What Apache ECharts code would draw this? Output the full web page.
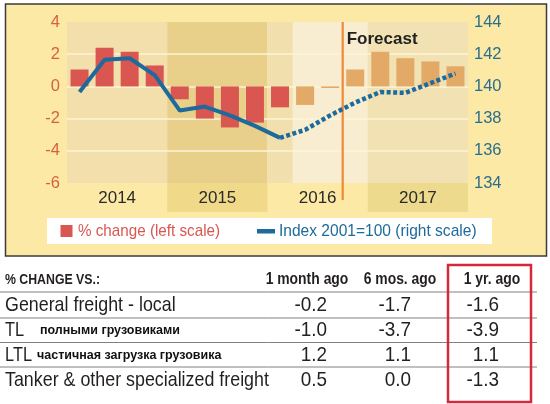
<!DOCTYPE html>
<html><head><meta charset="utf-8">
<script src="https://cdn.jsdelivr.net/npm/echarts@6/dist/echarts.min.js"></script>
<style>html,body{margin:0;padding:0;background:#fff}#c{width:550px;height:404px}</style>
</head><body><div id="c"></div>
<script>
// ---------- chart data ----------
const quarters = ['2014 Q1','2014 Q2','2014 Q3','2014 Q4','2015 Q1','2015 Q2','2015 Q3','2015 Q4',
                  '2016 Q1','2016 Q2','2016 Q3','2016 Q4','2017 Q1','2017 Q2','2017 Q3','2017 Q4'];
const years = ['2014','2015','2016','2017'];
const pctChange = [1.05, 2.4, 2.15, 1.3, -0.8, -2.0, -2.55, -2.25, -1.3, -1.15, -0.1, 1.05, 2.15, 1.75, 1.55, 1.25];
const indexValues = [139.65, 141.65, 141.75, 140.7, 138.5, 138.75, 138.2, 137.55, 136.8, 137.3, 138.2, 139.0, 139.65, 139.6, 140.2, 140.8];
const leftTicks = [-6, -4, -2, 0, 2, 4];
const rightTicks = [134, 136, 138, 140, 142, 144];
const lastActualIndex = 8;   // solid line ends here, dotted after
const firstEstimateBar = 9;  // tan bars from here
const forecastStart = 11;    // forecast begins with this quarter
const seriesNames = ['% change (left scale)', 'Index 2001=100 (right scale)'];

// ---------- table data ----------
const tableTitle = '% CHANGE VS.:';
const tableColumns = ['1 month ago', '6 mos. ago', '1 yr. ago'];
const rowLabels = ['General freight - local', 'TL', 'LTL', 'Tanker & other specialized freight'];
const rowNotes = ['', 'полными грузовиками', 'частичная загрузка грузовика', ''];
const monthAgo = [-0.2, -1.0, 1.2, 0.5];
const sixMonthsAgo = [-1.7, -3.7, 1.1, 0.0];
const yearAgo = [-1.6, -3.9, 1.1, -1.3];

// ---------- styling ----------
const FONT = "'Liberation Sans',Arial,Helvetica,sans-serif";
const RED = '#DA5650', TAN = '#E2A967', BLUE = '#1D6A9C';
const BG = '#FCE9A5';
const bandColors = ['#F2DFAC', '#E8D08A', '#F8EDD0', '#F1E1B3'];
const band2016Actual = '#F1DFAE';
const labelBandColors = [null, '#F1D98A', null, '#EEDA8C'];

const chart = echarts.init(document.getElementById('c'), null, {renderer: 'canvas'});

// narrow (condensed-looking) text helper
const txt = (x, y, s, font, align, color, sx) => ({
  type: 'text', x, y, scaleX: sx || 1,
  style: {text: s, font, fill: color || '#231F20', align: align || 'left', verticalAlign: 'middle'}
});

const g = [];
// chart frame
g.push({type: 'rect', z: -10, shape: {x: 5.5, y: 4, width: 541, height: 252}, style: {fill: BG, stroke: '#3A3A3A', lineWidth: 1.5}});
// legend
g.push({type: 'rect', z: 5, shape: {x: 47, y: 218, width: 445, height: 26}, style: {fill: '#fff'}});
g.push({type: 'rect', z: 6, shape: {x: 60.5, y: 225, width: 12, height: 12}, style: {fill: RED}});
g.push(Object.assign(txt(78, 231.5, seriesNames[0], '17px ' + FONT, 'left', RED, 0.895), {z: 6}));
g.push({type: 'rect', z: 6, shape: {x: 257, y: 229, width: 18, height: 4.5}, style: {fill: BLUE}});
g.push(Object.assign(txt(279, 231.5, seriesNames[1], '17px ' + FONT, 'left', BLUE, 0.915), {z: 6}));

// table
const rowY = [305, 330, 355, 380];
const sepY = [292, 318, 342.5, 367];
const colCenters = [307, 400, 492];
const colRight = [327, 411, 499];
const noteX = [0, 40, 37, 0];
g.push(txt(5, 280, tableTitle, 'bold 15px ' + FONT, 'left', '#231F20', 0.82));
tableColumns.forEach((c, i) => g.push(txt(colCenters[i], 280, c, 'bold 16px ' + FONT, 'center', '#231F20', 0.87)));
sepY.forEach(y => g.push({type: 'line', shape: {x1: 0, y1: y, x2: 537, y2: y}, style: {stroke: '#808080', lineWidth: 1}}));
rowLabels.forEach((r, i) => {
  g.push(txt(5, rowY[i], r, '21px ' + FONT, 'left', '#231F20', i === 1 || i === 2 ? 0.78 : 0.85));
  if (rowNotes[i]) g.push(txt(noteX[i], rowY[i] + 1, rowNotes[i], 'bold 12.5px ' + FONT, 'left', '#111'));
  [monthAgo, sixMonthsAgo, yearAgo].forEach((arr, j) =>
    g.push(txt(colRight[j], rowY[i], arr[i].toFixed(1), '21px ' + FONT, 'right', '#231F20', 0.9)));
});
g.push({type: 'rect', shape: {x: 448, y: 265, width: 83, height: 137}, style: {fill: 'none', stroke: '#D6283A', lineWidth: 2.5}});

const option = {
  backgroundColor: '#fff',
  animation: false,
  textStyle: {fontFamily: FONT},
  graphic: g,
  grid: {left: 67, right: 82, top: 22, bottom: 221, containLabel: false},
  xAxis: [
    {type: 'category', data: quarters, position: 'bottom', axisLine: {show: false}, axisTick: {show: false}, axisLabel: {show: false}},
    {type: 'category', data: years, position: 'bottom', axisLine: {show: false}, axisTick: {show: false},
     axisLabel: {margin: 7, fontSize: 17, color: '#2A2A2A', fontFamily: FONT}}
  ],
  yAxis: [
    {type: 'value', min: leftTicks[0], max: leftTicks[leftTicks.length - 1], interval: 2, z: 1,
     axisLine: {show: false}, axisTick: {show: false},
     axisLabel: {margin: 7, fontSize: 16.5, color: '#D8603F', fontFamily: FONT},
     splitLine: {show: true, showMinLine: false, showMaxLine: false, lineStyle: {color: '#FDF4D4', width: 1.5}}},
    {type: 'value', min: rightTicks[0], max: rightTicks[rightTicks.length - 1], interval: 2,
     axisLine: {show: false}, axisTick: {show: false}, splitLine: {show: false},
     axisLabel: {margin: 6, fontSize: 16.5, color: '#2B6E8C', fontFamily: FONT}}
  ],
  series: [
    {
      type: 'custom', name: 'bands', xAxisIndex: 1, yAxisIndex: 0, z: 0, silent: true,
      data: years.map((y, i) => [i]), encode: {x: 0},
      renderItem: (params, api) => {
        const i = api.value(0);
        const top = api.coord([i, leftTicks[leftTicks.length - 1]]);
        const bot = api.coord([i, leftTicks[0]]);
        const w = api.size([1, 0])[0];
        const x0 = top[0] - w / 2;
        const ch = [{type: 'rect', shape: {x: x0, y: top[1], width: w, height: bot[1] - top[1]}, style: {fill: bandColors[i]}}];
        if (i === 2) ch.push({type: 'rect', shape: {x: x0, y: top[1], width: w / 4, height: bot[1] - top[1]}, style: {fill: band2016Actual}});
        if (labelBandColors[i]) ch.push({type: 'rect', shape: {x: x0, y: bot[1], width: w, height: 29}, style: {fill: labelBandColors[i]}});
        return {type: 'group', children: ch};
      }
    },
    {
      type: 'custom', name: 'forecast', xAxisIndex: 0, yAxisIndex: 0, z: 3, silent: true,
      data: [[forecastStart]], encode: {x: 0},
      renderItem: (params, api) => {
        const idx = api.value(0);
        const w = api.size([1, 0])[0];
        const top = api.coord([idx, leftTicks[leftTicks.length - 1]]);
        const bot = api.coord([idx, leftTicks[0]]);
        const x = top[0] - w / 2;
        return {type: 'group', children: [
          {type: 'line', shape: {x1: x, y1: top[1], x2: x, y2: bot[1] + 17}, style: {stroke: '#EE8935', lineWidth: 2.2}},
          {type: 'text', x: x + 4, y: top[1] + 17, style: {text: 'Forecast', font: 'bold 17px ' + FONT, fill: '#222', verticalAlign: 'middle'}}
        ]};
      }
    },
    {
      type: 'bar', name: seriesNames[0], xAxisIndex: 0, yAxisIndex: 0, z: 2, barWidth: 18,
      itemStyle: {color: RED},
      data: pctChange.map((v, i) => ({value: v, itemStyle: {color: i >= firstEstimateBar ? TAN : RED}}))
    },
    {
      type: 'line', name: seriesNames[1], xAxisIndex: 0, yAxisIndex: 1, z: 4, symbol: 'none',
      lineStyle: {color: BLUE, width: 4}, itemStyle: {color: BLUE},
      data: indexValues.map((v, i) => i <= lastActualIndex ? v : '-')
    },
    {
      type: 'line', name: seriesNames[1] + ' (forecast)', xAxisIndex: 0, yAxisIndex: 1, z: 4, symbol: 'none',
      lineStyle: {color: BLUE, width: 4.5, type: [4, 2.5], cap: 'butt'}, itemStyle: {color: BLUE},
      data: indexValues.map((v, i) => i >= lastActualIndex ? v : '-')
    }
  ]
};
chart.setOption(option);
</script></body></html>
